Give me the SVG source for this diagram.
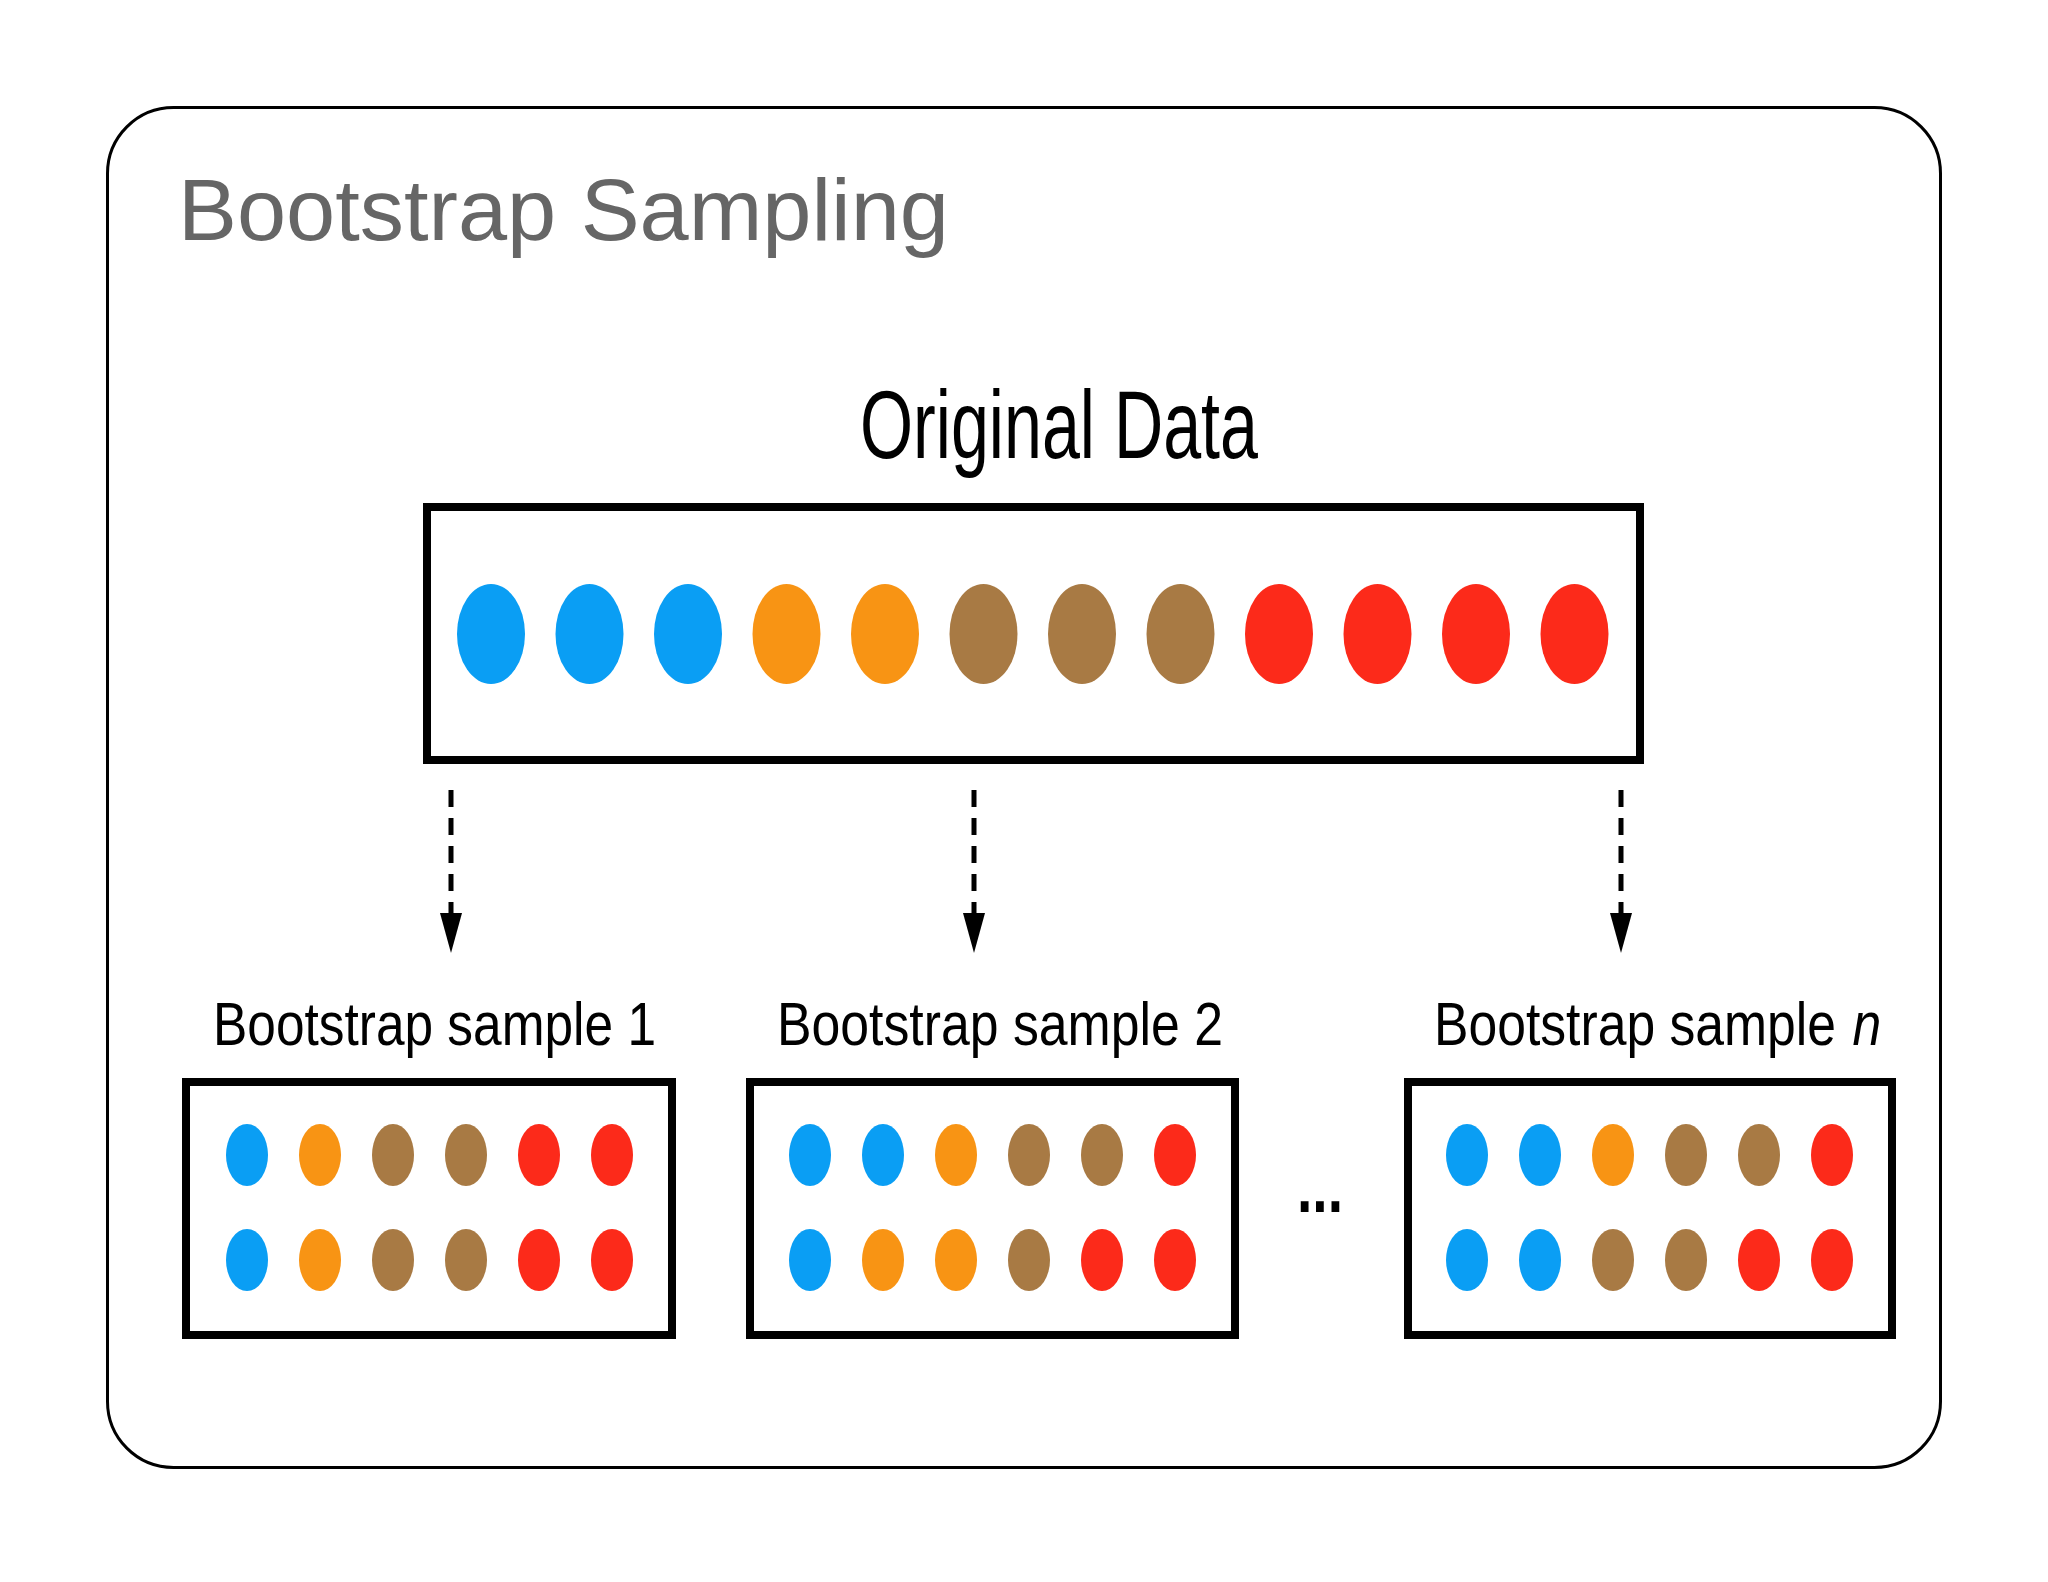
<svg xmlns="http://www.w3.org/2000/svg" width="2048" height="1582" viewBox="0 0 2048 1582">
  <defs>
    <style>
      .frame { fill: none; stroke: #000; stroke-width: 3; }
      .box { fill: #fff; stroke: #000; stroke-width: 8; }
      .title { font-family: "Liberation Sans", Arial, sans-serif; font-size: 88px; fill: #666666; }
      .lbl { font-family: "Liberation Sans", Arial, sans-serif; fill: #000; }
      .conn { stroke: #000; stroke-width: 5; stroke-dasharray: 17 11; fill: none; }
      .b { fill: #0A9EF4; }
      .o { fill: #F89414; }
      .br { fill: #A87A44; }
      .r { fill: #FC2A1A; }
    </style>
    <marker id="ah" markerUnits="userSpaceOnUse" markerWidth="42" markerHeight="24" refX="0" refY="12" orient="auto">
      <path d="M0,1 L40,12 L0,23 z" fill="#000"/>
    </marker>
  </defs>
  <rect width="2048" height="1582" fill="#fff"/>
  <rect class="frame" x="107.5" y="107.5" width="1833" height="1360" rx="66" ry="66"/>
  <text class="title" x="178" y="240" textLength="771" lengthAdjust="spacingAndGlyphs">Bootstrap Sampling</text>

  <g id="original">
    <text class="lbl" x="860" y="458" font-size="97" textLength="398" lengthAdjust="spacingAndGlyphs">Original Data</text>
    <rect class="box" x="427" y="507" width="1213" height="253"/>
    <ellipse class="b" cx="491" cy="634" rx="34" ry="50"/>
    <ellipse class="b" cx="589.5" cy="634" rx="34" ry="50"/>
    <ellipse class="b" cx="688" cy="634" rx="34" ry="50"/>
    <ellipse class="o" cx="786.5" cy="634" rx="34" ry="50"/>
    <ellipse class="o" cx="885" cy="634" rx="34" ry="50"/>
    <ellipse class="br" cx="983.5" cy="634" rx="34" ry="50"/>
    <ellipse class="br" cx="1082" cy="634" rx="34" ry="50"/>
    <ellipse class="br" cx="1180.5" cy="634" rx="34" ry="50"/>
    <ellipse class="r" cx="1279" cy="634" rx="34" ry="50"/>
    <ellipse class="r" cx="1377.5" cy="634" rx="34" ry="50"/>
    <ellipse class="r" cx="1476" cy="634" rx="34" ry="50"/>
    <ellipse class="r" cx="1574.5" cy="634" rx="34" ry="50"/>
  </g>

  <g id="connectors">
    <line class="conn" x1="451" y1="790" x2="451" y2="913" marker-end="url(#ah)"/>
    <line class="conn" x1="974" y1="790" x2="974" y2="913" marker-end="url(#ah)"/>
    <line class="conn" x1="1621" y1="790" x2="1621" y2="913" marker-end="url(#ah)"/>
  </g>

  <g id="sample1">
    <text class="lbl" x="213" y="1045" font-size="61" textLength="443" lengthAdjust="spacingAndGlyphs">Bootstrap sample 1</text>
    <rect class="box" x="186" y="1082" width="486" height="253"/>
    <ellipse class="b" cx="247" cy="1155" rx="21" ry="31"/>
    <ellipse class="o" cx="320" cy="1155" rx="21" ry="31"/>
    <ellipse class="br" cx="393" cy="1155" rx="21" ry="31"/>
    <ellipse class="br" cx="466" cy="1155" rx="21" ry="31"/>
    <ellipse class="r" cx="539" cy="1155" rx="21" ry="31"/>
    <ellipse class="r" cx="612" cy="1155" rx="21" ry="31"/>
    <ellipse class="b" cx="247" cy="1260" rx="21" ry="31"/>
    <ellipse class="o" cx="320" cy="1260" rx="21" ry="31"/>
    <ellipse class="br" cx="393" cy="1260" rx="21" ry="31"/>
    <ellipse class="br" cx="466" cy="1260" rx="21" ry="31"/>
    <ellipse class="r" cx="539" cy="1260" rx="21" ry="31"/>
    <ellipse class="r" cx="612" cy="1260" rx="21" ry="31"/>
  </g>

  <g id="sample2">
    <text class="lbl" x="777" y="1045" font-size="61" textLength="446" lengthAdjust="spacingAndGlyphs">Bootstrap sample 2</text>
    <rect class="box" x="750" y="1082" width="485" height="253"/>
    <ellipse class="b" cx="810" cy="1155" rx="21" ry="31"/>
    <ellipse class="b" cx="883" cy="1155" rx="21" ry="31"/>
    <ellipse class="o" cx="956" cy="1155" rx="21" ry="31"/>
    <ellipse class="br" cx="1029" cy="1155" rx="21" ry="31"/>
    <ellipse class="br" cx="1102" cy="1155" rx="21" ry="31"/>
    <ellipse class="r" cx="1175" cy="1155" rx="21" ry="31"/>
    <ellipse class="b" cx="810" cy="1260" rx="21" ry="31"/>
    <ellipse class="o" cx="883" cy="1260" rx="21" ry="31"/>
    <ellipse class="o" cx="956" cy="1260" rx="21" ry="31"/>
    <ellipse class="br" cx="1029" cy="1260" rx="21" ry="31"/>
    <ellipse class="r" cx="1102" cy="1260" rx="21" ry="31"/>
    <ellipse class="r" cx="1175" cy="1260" rx="21" ry="31"/>
  </g>

  <g id="ellipsis">
    <text class="lbl" x="1297" y="1212" font-size="72" font-weight="bold" textLength="46" lengthAdjust="spacingAndGlyphs">...</text>
  </g>

  <g id="samplen">
    <g transform="translate(1434,1045) scale(0.847,1)">
      <text class="lbl" x="0" y="0" font-size="61">Bootstrap sample</text>
      <text class="lbl" x="494" y="0" font-size="61" font-style="italic">n</text>
    </g>
    <rect class="box" x="1408" y="1082" width="484" height="253"/>
    <ellipse class="b" cx="1467" cy="1155" rx="21" ry="31"/>
    <ellipse class="b" cx="1540" cy="1155" rx="21" ry="31"/>
    <ellipse class="o" cx="1613" cy="1155" rx="21" ry="31"/>
    <ellipse class="br" cx="1686" cy="1155" rx="21" ry="31"/>
    <ellipse class="br" cx="1759" cy="1155" rx="21" ry="31"/>
    <ellipse class="r" cx="1832" cy="1155" rx="21" ry="31"/>
    <ellipse class="b" cx="1467" cy="1260" rx="21" ry="31"/>
    <ellipse class="b" cx="1540" cy="1260" rx="21" ry="31"/>
    <ellipse class="br" cx="1613" cy="1260" rx="21" ry="31"/>
    <ellipse class="br" cx="1686" cy="1260" rx="21" ry="31"/>
    <ellipse class="r" cx="1759" cy="1260" rx="21" ry="31"/>
    <ellipse class="r" cx="1832" cy="1260" rx="21" ry="31"/>
  </g>
</svg>
